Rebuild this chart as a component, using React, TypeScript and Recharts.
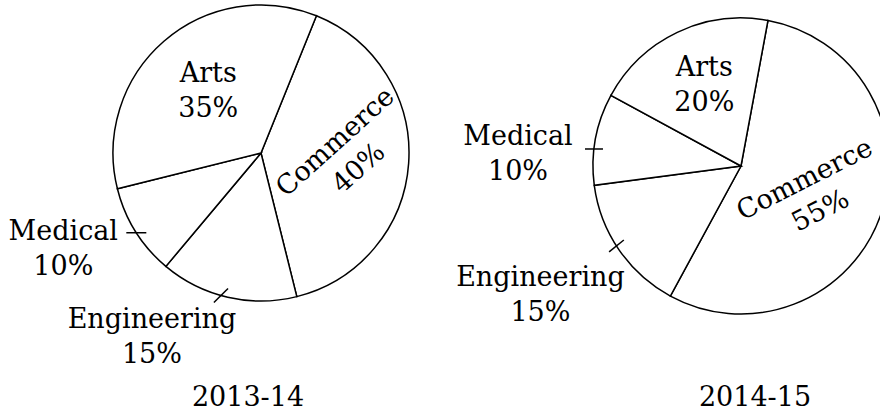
import React from 'react';
import { PieChart, Pie } from 'recharts';

// ---- data ----
const categories = ['Commerce', 'Engineering', 'Medical', 'Arts'];
const share2013 = [40, 15, 10, 35];
const share2014 = [55, 15, 10, 20];
const years = ['2013-14', '2014-15'];

const data2013 = categories.map((name, i) => ({ name, value: share2013[i] }));
const data2014 = categories.map((name, i) => ({ name, value: share2014[i] }));

// ---- styles / layout ----
const W = 880;
const H = 415;
const FONT = '"DejaVu Serif", serif';
const FS = 27;
const LINE = 35;
const HALF_CAP = 9.8;
const INK = '#000';
const SW = 1.5;
const RAD = Math.PI / 180;

type Cfg = {
  kind: 'inside' | 'outside';
  k?: number;
  da: number;
  rot?: number;
  tickAngle?: number;
  tickLen?: number;
  dx?: number;
  dy?: number;
};

const labels2013: Record<string, Cfg> = {
  Commerce: { kind: 'inside', k: 0.575, da: 3.3, rot: -42 },
  Arts: { kind: 'inside', k: 0.555, da: -1 },
  Medical: { kind: 'outside', da: 0.6, tickAngle: 0, tickLen: 20, dx: -73, dy: 7 },
  Engineering: { kind: 'outside', da: -2.7, tickAngle: -45, tickLen: 20, dx: -69, dy: 33 },
};

const labels2014: Record<string, Cfg> = {
  Commerce: { kind: 'inside', k: 0.515, da: -2, rot: -27 },
  Arts: { kind: 'inside', k: 0.61, da: -1.5 },
  Medical: { kind: 'outside', da: 3.9, tickAngle: 0, tickLen: 18, dx: -76, dy: -4 },
  Engineering: { kind: 'outside', da: -1.8, tickAngle: -39, tickLen: 19, dx: -76, dy: 40 },
};

function makeLabel(cfg: Record<string, Cfg>) {
  return (p: any) => {
    const name: string = p.payload?.name ?? p.name;
    const value: number = p.payload?.value ?? p.value;
    const c = cfg[name];
    if (!c) return null;
    const a = (p.midAngle + c.da) * RAD;
    const cx = p.cx;
    const cy = p.cy;
    const R = p.outerRadius;
    const pct = `${value}%`;
    if (c.kind === 'inside') {
      const r = R * (c.k ?? 0.55);
      const bx = cx + r * Math.cos(a);
      const by = cy - r * Math.sin(a);
      return (
        <g key={`lbl-${name}`} transform={`translate(${bx},${by}) rotate(${c.rot ?? 0})`}>
          <text x={0} y={-LINE / 2 + HALF_CAP} textAnchor="middle" fontFamily={FONT} fontSize={FS} fill={INK}>
            {name}
          </text>
          <text x={0} y={LINE / 2 + HALF_CAP} textAnchor="middle" fontFamily={FONT} fontSize={FS} fill={INK}>
            {pct}
          </text>
        </g>
      );
    }
    const tx = cx + R * Math.cos(a);
    const ty = cy - R * Math.sin(a);
    const ta = (c.tickAngle ?? 0) * RAD;
    const hl = (c.tickLen ?? 20) / 2;
    return (
      <g key={`lbl-${name}`}>
        <line
          x1={tx - hl * Math.cos(ta)}
          y1={ty - hl * Math.sin(ta)}
          x2={tx + hl * Math.cos(ta)}
          y2={ty + hl * Math.sin(ta)}
          stroke={INK}
          strokeWidth={SW}
        />
        <text x={tx + (c.dx ?? 0)} y={ty + (c.dy ?? 0)} textAnchor="middle" fontFamily={FONT} fontSize={FS} fill={INK}>
          {name}
        </text>
        <text x={tx + (c.dx ?? 0)} y={ty + (c.dy ?? 0) + LINE} textAnchor="middle" fontFamily={FONT} fontSize={FS} fill={INK}>
          {pct}
        </text>
      </g>
    );
  };
}

export default function App() {
  return (
    <div style={{ position: 'absolute', left: 0, top: 0, width: W, height: H, background: '#fff' }}>
      <PieChart width={W} height={H} margin={{ top: 0, right: 0, bottom: 0, left: 0 }}>
        <Pie
          data={data2013}
          dataKey="value"
          nameKey="name"
          cx={261}
          cy={153}
          outerRadius={148}
          startAngle={68}
          endAngle={-292}
          fill="#fff"
          stroke={INK}
          strokeWidth={SW}
          labelLine={false}
          label={makeLabel(labels2013)}
          isAnimationActive={false}
        />
        <Pie
          data={data2014}
          dataKey="value"
          nameKey="name"
          cx={741}
          cy={166}
          outerRadius={148}
          startAngle={79.5}
          endAngle={-280.5}
          fill="#fff"
          stroke={INK}
          strokeWidth={SW}
          labelLine={false}
          label={makeLabel(labels2014)}
          isAnimationActive={false}
        />
      </PieChart>
      <svg width={W} height={H} style={{ position: 'absolute', left: 0, top: 0, pointerEvents: 'none' }}>
        <text x={248} y={406} textAnchor="middle" fontFamily={FONT} fontSize={FS} fill={INK}>
          {years[0]}
        </text>
        <text x={755} y={406} textAnchor="middle" fontFamily={FONT} fontSize={FS} fill={INK}>
          {years[1]}
        </text>
      </svg>
    </div>
  );
}
